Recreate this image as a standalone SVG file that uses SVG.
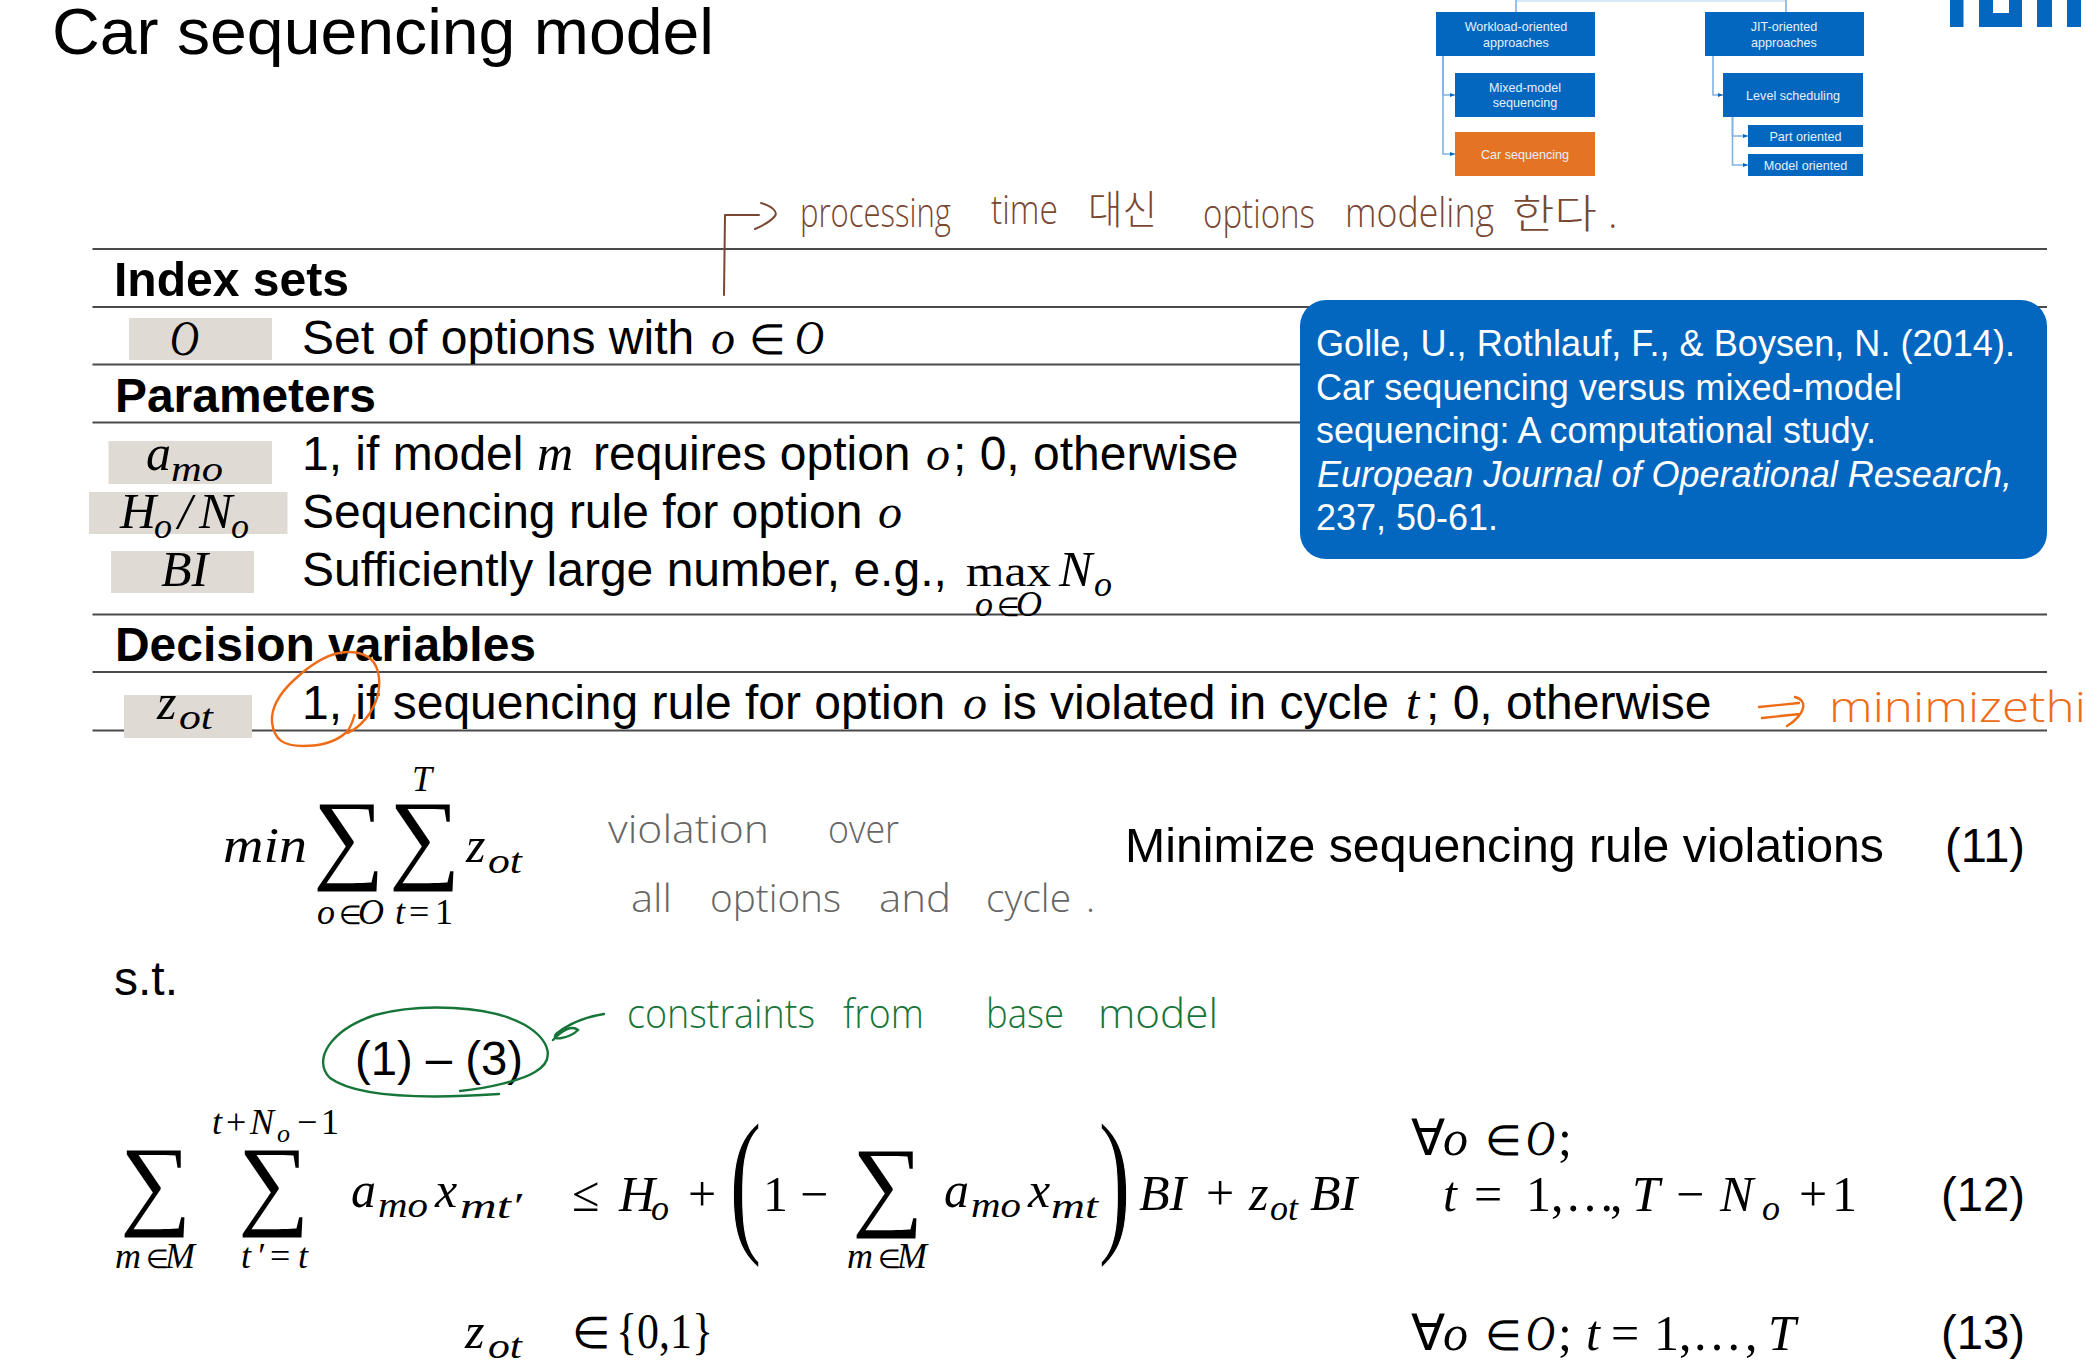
<svg xmlns="http://www.w3.org/2000/svg" width="2086" height="1362" viewBox="0 0 2086 1362">
<style>
text{font-family:"Liberation Sans",Arial,sans-serif;fill:#000;white-space:pre}
.h{font-size:48px;font-weight:700}
.b{font-size:48px}
.m{font-family:"Liberation Serif","Times New Roman",serif;font-style:italic}
.mu{font-family:"Liberation Serif","Times New Roman",serif;font-style:normal}
.f{font-size:50px}
.s{font-size:36px}
.e{font-size:26px}
.sig{font-family:"Liberation Serif","Times New Roman",serif;font-size:100px}
.par{font-family:"Liberation Serif","Times New Roman",serif;font-size:160px;stroke:#fff;stroke-width:1.6}
.rule{stroke:#4a4a4a;stroke-width:2.2;fill:none}
.shade{fill:#e0dad5}
.box{fill:#0366bf}
.bt{font-size:12.600px;fill:#e6f0fa;text-anchor:middle}
.cn{stroke:#7fb2e5;stroke-width:1.6;fill:none}
.cite{font-size:37px;fill:#fff}
.hw{font-family:"Open Sans","Noto Sans CJK KR",sans-serif;font-weight:300}
.br{fill:#7a4733;font-size:40px}
.brl{stroke:#7a4733;stroke-width:2;fill:none;stroke-linecap:round;stroke-linejoin:round}
.gy{fill:#666;font-size:38px}
.gn{fill:#17753a;font-size:40px}
.gnl{stroke:#17753a;stroke-width:2.4;fill:none;stroke-linecap:round}
.or{fill:#ee6c16;font-size:42px}
.orl{stroke:#ee6c16;stroke-width:2.4;fill:none;stroke-linecap:round;stroke-linejoin:round}
</style>
<defs>
<marker id="ah" markerUnits="userSpaceOnUse" markerWidth="6" markerHeight="6" refX="5" refY="3" orient="auto"><path d="M0,1L5,3L0,5z" fill="#0366bf"/></marker>
</defs>
<rect width="2086" height="1362" fill="#fff"/>

<g id="title"><text x="52" y="54" font-size="64" textLength="662" lengthAdjust="spacingAndGlyphs">Car sequencing model</text></g>

<g id="logo" fill="#0366bf">
<rect x="1950" y="0" width="13.500" height="27"/>
<path d="M1979,0h14v13h16V0h13v27h-43z"/>
<rect x="2037" y="0" width="15" height="27"/>
<rect x="2067" y="0" width="14" height="27"/>
</g>

<g id="connectors">
<path class="cn" d="M1516,1H1786" stroke-opacity=".4"/>
<path class="cn" d="M1516,0V12M1786,0V12"/>
<path class="cn" marker-end="url(#ah)" d="M1443,56V95H1455"/>
<path class="cn" marker-end="url(#ah)" d="M1443,56V154H1455"/>
<path class="cn" marker-end="url(#ah)" d="M1713,56V95H1723"/>
<path class="cn" marker-end="url(#ah)" d="M1732.500,117V136H1748"/>
<path class="cn" marker-end="url(#ah)" d="M1732.500,117V165H1748"/>
</g>

<g id="node-workload"><rect class="box" x="1436" y="12" width="159" height="44"/><text class="bt" x="1516" y="31">Workload-oriented</text><text class="bt" x="1516" y="47">approaches</text></g>
<g id="node-jit"><rect class="box" x="1705" y="12" width="159" height="44"/><text class="bt" x="1784" y="31">JIT-oriented</text><text class="bt" x="1784" y="47">approaches</text></g>
<g id="node-mixed"><rect class="box" x="1455" y="73" width="140" height="44"/><text class="bt" x="1525" y="92">Mixed-model</text><text class="bt" x="1525" y="107">sequencing</text></g>
<g id="node-car"><rect x="1455" y="132" width="140" height="44" fill="#e57324"/><text class="bt" x="1525" y="159">Car sequencing</text></g>
<g id="node-level"><rect class="box" x="1723" y="73" width="140" height="44"/><text class="bt" x="1793" y="100">Level scheduling</text></g>
<g id="node-part"><rect class="box" x="1748" y="125" width="115" height="22"/><text class="bt" x="1805.500" y="141">Part oriented</text></g>
<g id="node-model"><rect class="box" x="1748" y="154" width="115" height="22"/><text class="bt" x="1805.500" y="170">Model oriented</text></g>

<g id="rules">
<path class="rule" d="M92.500,249H2047M92.500,307H2047M92.500,364.500H2047M92.500,422.500H2047M92.500,614.500H2047M92.500,672H2047M92.500,730.500H2047"/>
</g>

<g id="shades">
<rect class="shade" x="129" y="318" width="143" height="42"/>
<rect class="shade" x="108.500" y="441" width="163.500" height="43"/>
<rect class="shade" x="89" y="492" width="198.500" height="42"/>
<rect class="shade" x="111" y="551" width="143" height="42"/>
<rect class="shade" x="124" y="695" width="128" height="43"/>
</g>

<g id="table-text">
<text class="h" x="114" y="296" textLength="235" lengthAdjust="spacingAndGlyphs">Index sets</text>
<text class="m f" x="170" y="355" textLength="29" lengthAdjust="spacingAndGlyphs">O</text>
<text class="b" x="302" y="354">Set of options with <tspan class="m" x="711">o</tspan><tspan class="mu" x="749" font-size="42">∈</tspan></text>
<text class="m b" x="795" y="354" textLength="29" lengthAdjust="spacingAndGlyphs">O</text>
<text class="h" x="115" y="412" textLength="261" lengthAdjust="spacingAndGlyphs">Parameters</text>
<text class="m f" x="146" y="470">a</text><text class="m s" x="171" y="481" textLength="52" lengthAdjust="spacingAndGlyphs">mo</text>
<text class="b" x="302" y="470">1, if model <tspan class="m" font-size="50" x="537">m</tspan><tspan x="593">requires option</tspan><tspan class="m" x="926">o</tspan><tspan x="953">; 0, otherwise</tspan></text>
<text class="m f" x="120" y="528">H</text><text class="m s" x="154" y="538">o</text><text class="m f" x="178" y="528">/</text><text class="m f" x="199" y="528">N</text><text class="m s" x="231" y="538">o</text>
<text class="b" x="302" y="528">Sequencing rule for option <tspan class="m" x="878">o</tspan></text>
<text class="m f" x="161" y="586">BI</text>
<text class="b" x="302" y="586">Sufficiently large number, e.g., </text>
<text class="mu" font-size="44" x="966" y="586" textLength="85" lengthAdjust="spacingAndGlyphs">max</text>
<text class="m f" x="1059" y="586">N</text><text class="m s" x="1094" y="596">o</text>
<text class="m s" x="975" y="616">o<tspan class="mu e" x="997">∈</tspan><tspan x="1016">O</tspan></text>
<text class="h" x="115" y="661" textLength="421" lengthAdjust="spacingAndGlyphs">Decision variables</text>
<text class="m f" x="157" y="719">z</text><text class="m s" x="179" y="729" textLength="34" lengthAdjust="spacingAndGlyphs">ot</text>
<text class="b" x="302" y="719">1, if sequencing rule for option <tspan class="m" x="963">o</tspan><tspan x="1002">is violated in cycle</tspan><tspan class="m" x="1406">t</tspan><tspan x="1426">; 0, otherwise</tspan></text>
</g>

<g id="citation">
<rect x="1300" y="300" width="747" height="259" rx="26" fill="#0366bf"/>
<text class="cite" x="1316" y="356" textLength="699" lengthAdjust="spacingAndGlyphs">Golle, U., Rothlauf, F., &amp; Boysen, N. (2014).</text>
<text class="cite" x="1316" y="400" textLength="586" lengthAdjust="spacingAndGlyphs">Car sequencing versus mixed-model</text>
<text class="cite" x="1316" y="443" textLength="560" lengthAdjust="spacingAndGlyphs">sequencing: A computational study.</text>
<text class="cite" x="1317" y="487" font-style="italic" textLength="695" lengthAdjust="spacingAndGlyphs">European Journal of Operational Research,</text>
<text class="cite" x="1316" y="530" textLength="182" lengthAdjust="spacingAndGlyphs">237, 50-61.</text>
</g>

<g id="eq11">
<text class="m f" x="223" y="862" textLength="84" lengthAdjust="spacingAndGlyphs">min</text>
<text class="sig" x="313" y="870">∑</text><text class="sig" x="389" y="870">∑</text>
<text class="m s" x="317" y="924">o<tspan class="mu e" x="339">∈</tspan><tspan x="358">O</tspan></text>
<text class="m s" x="395" y="924">t<tspan class="mu" x="409">=</tspan><tspan class="mu" x="435">1</tspan></text>
<text class="m s" x="412" y="791">T</text>
<text class="m f" x="466" y="862">z</text><text class="m s" x="488" y="873" textLength="34" lengthAdjust="spacingAndGlyphs">ot</text>
<text class="b" x="1125" y="862" textLength="759" lengthAdjust="spacingAndGlyphs">Minimize sequencing rule violations</text>
<text class="b" x="1945" y="862" textLength="80" lengthAdjust="spacingAndGlyphs">(11)</text>
</g>

<text class="b" x="114" y="995">s.t.</text>
<text class="b" x="355" y="1075" textLength="168" lengthAdjust="spacingAndGlyphs">(1) – (3)</text>

<g id="eq12">
<text class="sig" x="120" y="1216">∑</text><text class="sig" x="238" y="1216">∑</text>
<text class="m s" x="115" y="1268">m<tspan class="mu e" x="146">∈</tspan><tspan x="165">M</tspan></text>
<text class="m s" x="241" y="1268">t<tspan x="256">′</tspan><tspan class="mu" x="270">=</tspan><tspan x="298">t</tspan></text>
<text class="m s" x="212" y="1134">t<tspan class="mu" x="226">+</tspan><tspan x="250">N</tspan></text><text class="m e" x="277" y="1142">o</text><text class="mu s" x="297" y="1134">−<tspan x="321">1</tspan></text>
<text class="m f" x="351" y="1207">a</text><text class="m s" x="378" y="1217" textLength="50" lengthAdjust="spacingAndGlyphs">mo</text><text class="m f" x="435" y="1207">x</text><text class="m s" x="460" y="1218" textLength="62" lengthAdjust="spacingAndGlyphs">mt′</text>
<text class="mu f" x="572" y="1211">≤</text>
<text class="m f" x="619" y="1211">H</text><text class="m s" x="651" y="1220">o</text>
<text class="mu f" x="688" y="1211">+</text>
<text class="par" transform="translate(729,1234) scale(.62,1)">(</text>
<text class="mu f" x="763" y="1211">1</text>
<text class="mu f" x="800" y="1211">−</text>
<text class="sig" x="852" y="1217">∑</text>
<text class="m s" x="847" y="1268">m<tspan class="mu e" x="878">∈</tspan><tspan x="897">M</tspan></text>
<text class="m f" x="944" y="1207">a</text><text class="m s" x="971" y="1217" textLength="50" lengthAdjust="spacingAndGlyphs">mo</text><text class="m f" x="1028" y="1207">x</text><text class="m s" x="1051" y="1218" textLength="47" lengthAdjust="spacingAndGlyphs">mt</text>
<text class="par" transform="translate(1098,1234) scale(.62,1)">)</text>
<text class="m f" x="1139" y="1210">BI</text><text class="mu f" x="1206" y="1210">+</text><text class="m f" x="1249" y="1210">z</text><text class="m s" x="1270" y="1220">ot</text><text class="m f" x="1310" y="1210">BI</text>
<text class="mu f" x="1411" y="1155">∀</text><text class="m f" x="1443" y="1155">o</text><text class="mu" x="1485" y="1155" font-size="42">∈</text><text class="m f" x="1526" y="1155" textLength="29" lengthAdjust="spacingAndGlyphs">O</text><text class="mu f" x="1558" y="1155">;</text>
<text class="f" x="1443" y="1211"><tspan class="m">t</tspan><tspan class="mu" x="1474">=</tspan><tspan class="mu" x="1526">1,</tspan><tspan class="mu" x="1565">…</tspan><tspan class="mu" x="1610">,</tspan><tspan class="m" x="1632">T</tspan><tspan class="mu" x="1676">−</tspan><tspan class="m" x="1720">N</tspan><tspan class="m" font-size="36" x="1762" dy="9">o</tspan><tspan class="mu" x="1799" dy="-9">+</tspan><tspan class="mu" x="1832">1</tspan></text>
<text class="b" x="1941" y="1211" textLength="84" lengthAdjust="spacingAndGlyphs">(12)</text>
</g>

<g id="eq13">
<text class="m f" x="465" y="1348">z</text><text class="m s" x="488" y="1358" textLength="34" lengthAdjust="spacingAndGlyphs">ot</text>
<text class="mu" font-size="44" x="572" y="1348">∈</text>
<text class="mu f" x="616" y="1348" textLength="97" lengthAdjust="spacingAndGlyphs">{0,1}</text>
<text class="mu f" x="1411" y="1350">∀</text><text class="m f" x="1443" y="1350">o</text><text class="mu" font-size="42" x="1485" y="1350">∈</text><text class="m f" x="1526" y="1350" textLength="29" lengthAdjust="spacingAndGlyphs">O</text>
<text class="f" x="1558" y="1350"><tspan class="mu">;</tspan><tspan class="m" x="1586">t</tspan><tspan class="mu" x="1611">=</tspan><tspan class="mu" x="1654">1,</tspan><tspan class="mu" x="1692">…</tspan><tspan class="mu" x="1745">,</tspan><tspan class="m" x="1768">T</tspan></text>
<text class="b" x="1941" y="1349" textLength="84" lengthAdjust="spacingAndGlyphs">(13)</text>
</g>

<g id="note-brown">
<path class="brl" d="M724,295L725,215H759M761,203C772,206 778,212 775,216C770,222 762,226 755,229"/>
<text class="hw br" x="800" y="227" textLength="151" lengthAdjust="spacingAndGlyphs">processing</text>
<text class="hw br" x="991" y="224" textLength="67" lengthAdjust="spacingAndGlyphs">time</text>
<text class="hw br" x="1088" y="224" textLength="69" lengthAdjust="spacingAndGlyphs">대신</text>
<text class="hw br" x="1203" y="228" textLength="112" lengthAdjust="spacingAndGlyphs">options</text>
<text class="hw br" x="1345" y="227" textLength="149" lengthAdjust="spacingAndGlyphs">modeling</text>
<text class="hw br" x="1512" y="228" textLength="85" lengthAdjust="spacingAndGlyphs">한다</text>
<text class="hw br" x="1608" y="228">.</text>
</g>

<g id="note-orange">
<path class="orl" d="M354.500,715C352,724 350,729 345.600,733C333,744 318,746 303,746C285,746 274,741 272,722C271,708 280,693 294,680C310,665 330,652 348,652C366,652 375,660 378,672C381,685 378,700 370,713C364,722 356,729 348,733"/>
<path class="orl" d="M1759,707L1799,703M1762,718L1800,714M1795,697C1808,700 1806,714 1787,726"/>
<text class="hw or" x="1829" y="722" textLength="280" lengthAdjust="spacingAndGlyphs">minimizethis</text>
</g>

<g id="note-gray">
<text class="hw gy" x="608" y="843" textLength="161" lengthAdjust="spacingAndGlyphs">violation</text>
<text class="hw gy" x="828" y="843" textLength="71" lengthAdjust="spacingAndGlyphs">over</text>
<text class="hw gy" x="631" y="912" textLength="41" lengthAdjust="spacingAndGlyphs">all</text>
<text class="hw gy" x="710" y="912" textLength="131" lengthAdjust="spacingAndGlyphs">options</text>
<text class="hw gy" x="879" y="912" textLength="72" lengthAdjust="spacingAndGlyphs">and</text>
<text class="hw gy" x="986" y="912" textLength="85" lengthAdjust="spacingAndGlyphs">cycle</text>
<text class="hw gy" x="1086" y="912">.</text>
</g>

<g id="note-green">
<path class="gnl" d="M499,1094C440,1098 360,1100 330,1078C312,1060 330,1030 375,1015C420,1003 490,1005 525,1025C550,1040 556,1060 535,1072C522,1080 490,1088 460,1091"/>
<path class="gnl" d="M604,1014C585,1017 568,1024 556,1034C550,1042 570,1038 578,1030C572,1025 562,1030 553,1040"/>
<text class="hw gn" x="627" y="1028" textLength="188" lengthAdjust="spacingAndGlyphs">constraints</text>
<text class="hw gn" x="843" y="1028" textLength="81" lengthAdjust="spacingAndGlyphs">from</text>
<text class="hw gn" x="986" y="1028" textLength="78" lengthAdjust="spacingAndGlyphs">base</text>
<text class="hw gn" x="1098" y="1028" textLength="120" lengthAdjust="spacingAndGlyphs">model</text>
</g>
</svg>
